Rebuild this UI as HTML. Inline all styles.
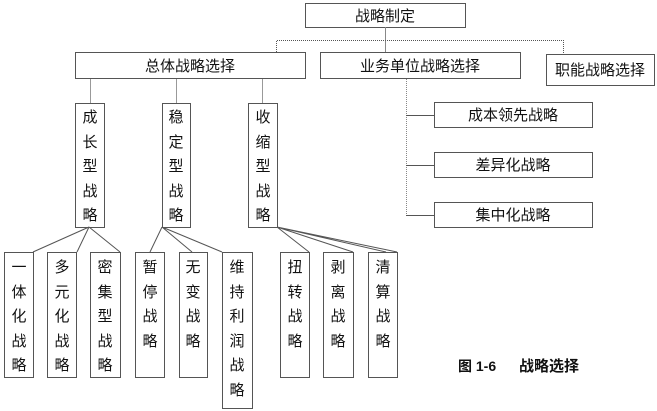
<!DOCTYPE html>
<html><head><meta charset="utf-8"><style>
html,body{margin:0;padding:0;background:#fff;}
svg{display:block;}
text{font-family:"Liberation Sans","Noto Sans CJK SC",sans-serif;font-size:15px;fill:#111;}
</style></head><body>
<svg width="657" height="411" viewBox="0 0 657 411" xmlns="http://www.w3.org/2000/svg">
<g fill="#fff" stroke="#555" stroke-width="1">
<rect x="305.5" y="3.5" width="160" height="24"/>
<rect x="75.5" y="52.5" width="230" height="26"/>
<rect x="320.5" y="52.5" width="200" height="26"/>
<rect x="546.5" y="54.5" width="108" height="31"/>
<rect x="75.5" y="103.5" width="29" height="124"/>
<rect x="162.5" y="103.5" width="28" height="124"/>
<rect x="248.5" y="103.5" width="29" height="124"/>
<rect x="434.5" y="102.5" width="158" height="25"/>
<rect x="434.5" y="152.5" width="158" height="25"/>
<rect x="434.5" y="202.5" width="158" height="25"/>
<rect x="4.5" y="252.5" width="29" height="125"/>
<rect x="47.5" y="252.5" width="29" height="125"/>
<rect x="90.5" y="252.5" width="30" height="125"/>
<rect x="135.5" y="252.5" width="29" height="125"/>
<rect x="179.5" y="252.5" width="28" height="125"/>
<rect x="222.5" y="252.5" width="30" height="156"/>
<rect x="280.5" y="252.5" width="29" height="125"/>
<rect x="323.5" y="252.5" width="30" height="125"/>
<rect x="368.5" y="252.5" width="29" height="125"/>
</g>
<g stroke="#555" fill="none" stroke-width="1">
<path d="M385.5 27 V52" stroke="#888"/>
<path d="M276.5 52 V40.5 H563.5 V54" stroke-dasharray="1,1"/>
<path d="M406.5 79 V215" stroke-dasharray="1,1" stroke="#888"/>
<path d="M406 115.5 H434 M406 165.5 H434 M406 215.5 H434"/>
<path d="M90.5 79 V103 M176.5 79 V103 M262.5 79 V103" stroke="#999"/>
<path d="M89 227 L33 252 M89 227 L77 252 M89 227 L120 252"/>
<path d="M162 227 L150 252 M162 227 L192 252 M162 227 L222 252"/>
<path d="M277 227 L309 252 M277 227 L353 252 M277 227 L397 252 M277 227 L386 252"/>
</g>
<g text-anchor="middle">
<text x="385" y="21">战略制定</text>
<text x="190" y="71">总体战略选择</text>
<text x="420" y="71">业务单位战略选择</text>
<text x="600" y="75">职能战略选择</text>
<text x="513" y="120">成本领先战略</text>
<text x="513" y="170">差异化战略</text>
<text x="513" y="220">集中化战略</text>
</g>
<g text-anchor="middle">
<text x="90" y="122">成</text><text x="90" y="147">长</text><text x="90" y="171">型</text><text x="90" y="196">战</text><text x="90" y="220">略</text>
<text x="176" y="122">稳</text><text x="176" y="147">定</text><text x="176" y="171">型</text><text x="176" y="196">战</text><text x="176" y="220">略</text>
<text x="263" y="122">收</text><text x="263" y="147">缩</text><text x="263" y="171">型</text><text x="263" y="196">战</text><text x="263" y="220">略</text>

<text x="19" y="272">一</text><text x="19" y="297">体</text><text x="19" y="321">化</text><text x="19" y="346">战</text><text x="19" y="370">略</text>
<text x="62" y="272">多</text><text x="62" y="297">元</text><text x="62" y="321">化</text><text x="62" y="346">战</text><text x="62" y="370">略</text>
<text x="105" y="272">密</text><text x="105" y="297">集</text><text x="105" y="321">型</text><text x="105" y="346">战</text><text x="105" y="370">略</text>
<text x="150" y="272">暂</text><text x="150" y="297">停</text><text x="150" y="321">战</text><text x="150" y="346">略</text>
<text x="193" y="272">无</text><text x="193" y="297">变</text><text x="193" y="321">战</text><text x="193" y="346">略</text>
<text x="237" y="272">维</text><text x="237" y="297">持</text><text x="237" y="321">利</text><text x="237" y="346">润</text><text x="237" y="370">战</text><text x="237" y="395">略</text>
<text x="295" y="272">扭</text><text x="295" y="297">转</text><text x="295" y="321">战</text><text x="295" y="346">略</text>
<text x="338" y="272">剥</text><text x="338" y="297">离</text><text x="338" y="321">战</text><text x="338" y="346">略</text>
<text x="383" y="272">清</text><text x="383" y="297">算</text><text x="383" y="321">战</text><text x="383" y="346">略</text>
</g>
<text x="458" y="371" style="font-weight:bold;font-size:14px;">图 1-6</text>
<text x="519" y="371" style="font-weight:bold;font-size:15px;">战略选择</text>
</svg>
</body></html>
